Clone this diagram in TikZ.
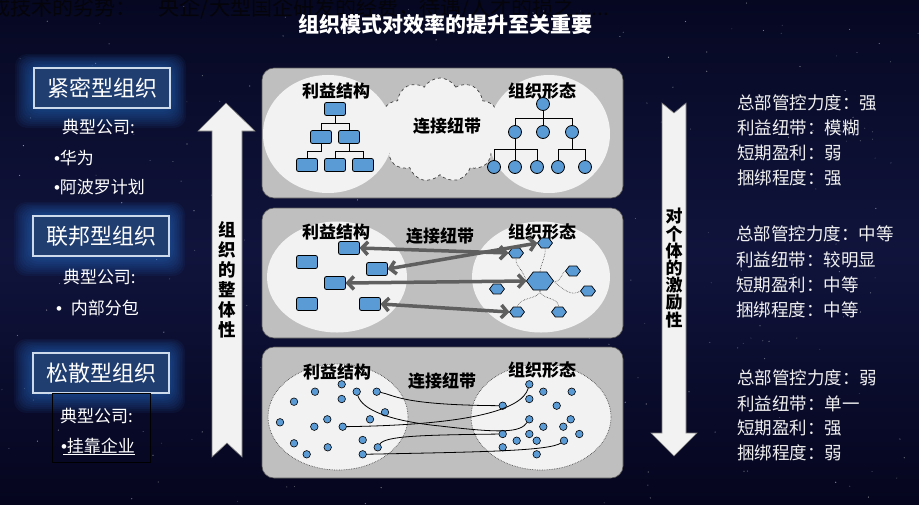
\documentclass[tikz,border=0pt]{standalone}
\usepackage{fontspec}
\setmainfont{Noto Sans CJK SC}
\newfontfamily\bulletfont{Liberation Sans}
\usetikzlibrary{shapes.geometric,shapes.symbols,arrows.meta,calc}
\definecolor{bgtop}{RGB}{6,8,34}
\definecolor{bgmid}{RGB}{16,20,60}
\definecolor{bgbot}{RGB}{5,5,30}
\definecolor{glowc}{RGB}{40,110,200}
\definecolor{boxfill}{RGB}{32,62,112}
\definecolor{boxline}{RGB}{205,218,236}
\definecolor{panelc}{RGB}{191,191,191}
\definecolor{lightc}{RGB}{242,242,242}
\definecolor{bluec}{RGB}{91,155,213}
\definecolor{arrowc}{RGB}{95,95,95}
\definecolor{txtc}{RGB}{240,240,240}
\newcommand\myfs[1]{\fontsize{#1}{#1}\selectfont}
\newcommand\mybul{{\bulletfont •}}
\newcommand\myglow[2]{%
  \foreach \k in {1,...,10}{%
    \fill[glowc, opacity=0.075, rounded corners=12pt] ({#1-68-1.9*\k},{#2-20-1.4*\k}) rectangle ({#1+68+1.6*\k},{#2+20+2*\k});
  }}
\begin{document}
\begin{tikzpicture}[x=1pt,y=-1pt,
  every node/.style={inner sep=0pt, outer sep=0pt},
  lbox/.style={draw=boxline, line width=2pt, fill=boxfill, text=white, minimum width=136, minimum height=40, font=\myfs{22}},
  ltxt/.style={text=white, font=\myfs{17}, anchor=west},
  rtxt/.style={text=txtc, font=\myfs{17.5}, anchor=west},
  paneltitle/.style={text=black, font=\bfseries\myfs{17}},
  panelbox/.style={fill=panelc, draw={rgb,255:red,90;green,90;blue,90}, line width=0.6pt, rounded corners=12pt},
  oval/.style={ellipse, fill=lightc},
  trect/.style={draw=black, line width=0.8pt, fill=bluec, rounded corners=2pt, minimum width=21, minimum height=13},
  tcirc/.style={circle, draw=black, line width=0.8pt, fill=bluec, minimum size=13},
  hexs/.style={regular polygon, regular polygon sides=6, draw=black, line width=0.7pt, fill=bluec, minimum size=11.5, xscale=1.3, transform shape},
  hexl/.style={hexs, minimum size=20.8},
  dotn/.style={circle, draw=black, line width=0.6pt, fill=bluec, minimum size=7.5},
  treeline/.style={draw=black, line width=0.8pt},
  dline/.style={draw=black!75, line width=0.6pt, densely dotted},
  biarrow/.style={draw=arrowc, line width=3.5pt, {Straight Barb[length=6pt,width=13pt]}-{Straight Barb[length=6pt,width=13pt]}},
  curveline/.style={draw=black, line width=0.8pt},
  bigarrow/.style={fill=lightc, draw={rgb,255:red,120;green,120;blue,120}, line width=0.6pt}
]
\useasboundingbox (0,0) rectangle (919,504);
% background
\shade[top color=bgtop, bottom color=bgbot, middle color=bgmid] (0,0) rectangle (919,504);
\pgfmathsetseed{17}
\foreach \i in {1,...,260}{%
  \pgfmathsetmacro\sx{rnd*919}\pgfmathsetmacro\sy{rnd*504}\pgfmathsetmacro\so{0.15+0.45*rnd}
  \fill[white, opacity=\so] (\sx,\sy) circle (0.6pt);
}

% top cut-off text and title
\node[anchor=west, text={rgb,255:red,4;green,4;blue,10}, font=\myfs{21}] (toptxt) at (-10,8) {成技术的劣势：\hspace{22pt}央企/大型国企研发的经费，待遇/人才的损之......};
\node[text=white, font=\bfseries\myfs{21}] (title) at (445,25) {组织模式对效率的提升至关重要};

% left boxes with glow
\myglow{102}{88}
\myglow{101}{236}
\myglow{101}{373}
\node[lbox] (b1) at (102,88) {紧密型组织};
\node[lbox] (b2) at (101,236) {联邦型组织};
\node[lbox] (b3) at (101,373) {松散型组织};

\node[ltxt] (k1) at (62,127) {典型公司:};
\node[ltxt] (k1a) at (54,158) {\mybul 华为};
\node[ltxt] (k1b) at (54,187) {\mybul 阿波罗计划};
\node[ltxt] (k2) at (63,277) {典型公司:};
\node[ltxt] (k2a) at (56,308) {\mybul\hspace{9pt}内部分包};
\draw[black, line width=0.8pt] (52,393) rectangle (150,462);
\node[ltxt] (k3) at (60,416) {典型公司:};
\node[ltxt] (k3a) at (61,446) {\mybul 挂靠企业};
\draw[white, line width=0.6pt] ($(k3a.south west)+(2,0)$) -- (k3a.south east);

% left big up arrow
\path[bigarrow] (226,103) -- (255,131) -- (242,131) -- (242,457) -- (227,443) -- (212,457) -- (212,131) -- (198,131) -- cycle;
\node[align=center, text=black, font=\bfseries\fontsize{17.5}{20}\selectfont] (lat) at (227,280) {组\\织\\的\\整\\体\\性};

% right big down arrow
\path[bigarrow] (662,103) -- (674,113) -- (686,103) -- (686,433) -- (697,433) -- (674,456) -- (651,433) -- (662,433) -- cycle;
\node[align=center, text=black, font=\bfseries\fontsize{17}{17.2}\selectfont] (rat) at (674,268) {对\\个\\体\\的\\激\\励\\性};

% ===== panel 1 =====
\path[panelbox] (262,68) rectangle (623,198);
\node[cloud, cloud puffs=11, cloud puff arc=120, aspect=1.25, draw=black!75, dashed, line width=0.7pt, fill=lightc, minimum width=122, minimum height=104] (cl) at (440,130) {};
\node[oval, minimum width=130, minimum height=118] (e1l) at (328,134) {};
\node[oval, minimum width=122, minimum height=118] (e1r) at (549,134) {};
\node[paneltitle] (p1a) at (336,91) {利益结构};
\node[paneltitle] (p1b) at (542,91) {组织形态};
\node[paneltitle] (p1c) at (447,126) {连接纽带};
% left tree
\node[trect] (t1) at (335,109) {};
\node[trect] (t21) at (321,137) {};
\node[trect] (t22) at (349,137) {};
\node[trect] (t31) at (307,165) {};
\node[trect] (t32) at (335,165) {};
\node[trect] (t33) at (363,165) {};
\draw[treeline] (t1.south) -- ++(0,7.5);
\draw[treeline] (t21.north) -- ++(0,-7.5) -| (t22.north);
\draw[treeline] (t21.south) -- ++(0,7.5) -| (t31.north);
\draw[treeline] (t22.south) -- ++(0,7.5);
\draw[treeline] (t32.north) -- ++(0,-7.5) -| (t33.north);
% right tree
\node[tcirc] (c1) at (543,104) {};
\node[tcirc] (c21) at (515,132) {};
\node[tcirc] (c22) at (543,132) {};
\node[tcirc] (c23) at (572,132) {};
\node[tcirc] (c31) at (494,167) {};
\node[tcirc] (c32) at (515,167) {};
\node[tcirc] (c33) at (537,167) {};
\node[tcirc] (c34) at (558,167) {};
\node[tcirc] (c35) at (585,167) {};
\draw[treeline] (c1.south) -- (c22.north);
\draw[treeline] (c21.north) -- ++(0,-7.5) -| (c23.north);
\draw[treeline] (c21.south) -- (c32.north);
\draw[treeline] (c31.north) -- ++(0,-11) -| (c33.north);
\draw[treeline] (c23.south) -- ++(0,11);
\draw[treeline] (c34.north) -- ++(0,-11) -| (c35.north);

% ===== panel 2 =====
\path[panelbox] (262,208) rectangle (623,338);
\node[oval, minimum width=140, minimum height=111] (e2l) at (337,277) {};
\node[oval, minimum width=138, minimum height=111] (e2r) at (541,277) {};
\node[paneltitle] (p2a) at (336,232) {利益结构};
\node[paneltitle] (p2b) at (542,232) {组织形态};
\node[paneltitle] (p2c) at (440,236) {连接纽带};
\node[trect] (r1) at (349,248) {};
\node[trect] (r2) at (307,262) {};
\node[trect] (r3) at (377,269) {};
\node[trect] (r4) at (335,283) {};
\node[trect] (r5) at (307,304) {};
\node[trect] (r6) at (370,304) {};
\node[hexs] (h1) at (545,243) {};
\node[hexs] (h2) at (516,253) {};
\node[hexs] (h3) at (497,289) {};
\node[hexs] (h4) at (573,271) {};
\node[hexs] (h5) at (588,291) {};
\node[hexs] (h6) at (517,312) {};
\node[hexs] (h7) at (559,312) {};
\node[hexl] (hb) at (540,281) {};
\draw[dline] (hb.north) .. controls (541,262) and (546,258) .. (h1.south);
\draw[dline] (hb.corner 3) .. controls (522,268) and (514,264) .. (h2.south);
\draw[dline] (hb.east) .. controls (560,284) and (562,272) .. (h4.west);
\draw[dline] (hb.east) .. controls (566,292) and (572,296) .. (h5.west);
\draw[dline] (hb.south) .. controls (540,300) and (520,296) .. (h6.north);
\draw[dline] (hb.south) .. controls (540,300) and (558,296) .. (h7.north);
\draw[biarrow] (r1.east) -- (h2.west);
\draw[biarrow] (r3.east) -- (h1.west);
\draw[biarrow] (r4.east) -- (hb.west);
\draw[biarrow] (r6.east) -- (h6.west);

% ===== panel 3 =====
\path[panelbox] (262,347) rectangle (623,478);
\node[oval, minimum width=140, minimum height=106, draw=black!70, densely dotted, line width=0.7pt] (e3l) at (338,417) {};
\node[oval, minimum width=140, minimum height=106, draw=black!70, densely dotted, line width=0.7pt] (e3r) at (541,417) {};
\node[paneltitle] (p3a) at (337,372) {利益结构};
\node[paneltitle] (p3b) at (542,370) {组织形态};
\node[paneltitle] (p3c) at (442,381) {连接纽带};
\foreach \n/\px/\py in {1/341.7/384.3, 2/315/391.7, 3/356.7/391.7, 4/376.7/391.7, 5/294/401.7, 6/341.7/399, 7/385/412.3, 8/280/422.3, 9/327.3/419.3, 10/314.3/426.7, 11/342.7/426.7, 12/370/419.3, 13/362.7/440, 14/294/443.3, 15/327.7/447.3, 16/377.7/447.3, 17/306.7/454.3, 18/362.7/454.3}{
  \node[dotn] (p\n) at (\px,\py) {};
}
\foreach \n/\px/\py in {1/529.3/384.3, 2/543.3/391.7, 3/571.7/391.7, 4/529.3/399, 5/502.7/405.7, 6/556.7/405.7, 7/529.3/419.3, 8/570.7/419.3, 9/543.3/426.7, 10/563.3/426.7, 11/502.7/434, 12/529.3/434, 13/579.3/434, 14/516.7/440.7, 15/536.7/440.7, 16/564/440.7, 17/502.7/447.3, 18/536.7/454.3}{
  \node[dotn] (q\n) at (\px,\py) {};
}
\draw[curveline] (p4) .. controls (395,395) and (400,405) .. (q5);
\draw[curveline] (p11) .. controls (460,425) and (522,412) .. (q1);
\draw[curveline] (p3) .. controls (362,410) and (390,421) .. (440,426) .. controls (500,433) and (520,433) .. (q7);
\draw[curveline] (p16) .. controls (385,436) and (420,435) .. (q11);
\draw[curveline] (p18) .. controls (480,452) and (550,451) .. (q16);

% ===== right texts =====
\node[rtxt] (s1a) at (737,103) {总部管控力度：强};
\node[rtxt] (s1b) at (737,128) {利益纽带：模糊};
\node[rtxt] (s1c) at (737,153) {短期盈利：弱};
\node[rtxt] (s1d) at (737,178) {捆绑程度：强};
\node[rtxt] (s2a) at (736,234) {总部管控力度：中等};
\node[rtxt] (s2b) at (736,260) {利益纽带：较明显};
\node[rtxt] (s2c) at (736,285) {短期盈利：中等};
\node[rtxt] (s2d) at (736,310) {捆绑程度：中等};
\node[rtxt] (s3a) at (737,378) {总部管控力度：弱};
\node[rtxt] (s3b) at (737,404) {利益纽带：单一};
\node[rtxt] (s3c) at (737,428) {短期盈利：强};
\node[rtxt] (s3d) at (737,453) {捆绑程度：弱};
\end{tikzpicture}
\end{document}
